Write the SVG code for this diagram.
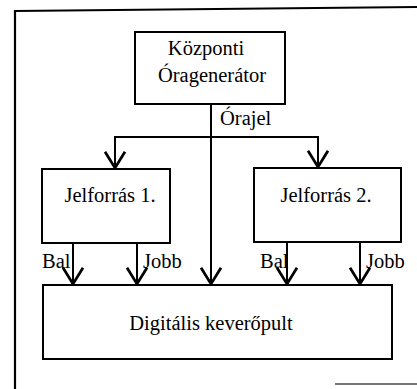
<svg xmlns="http://www.w3.org/2000/svg" width="417" height="389" viewBox="0 0 417 389">
  <defs>
    <style>
      .box { fill: #ffffff; stroke: #000000; stroke-width: 2; }
      .lbl { font-family: "Liberation Serif", "Times New Roman", serif; font-size: 20.5px; fill: #000000; }
      .wire { fill: none; stroke: #000000; stroke-width: 2; }
      .frame { fill: none; stroke: #000000; stroke-width: 2.2; }
    </style>
    <marker id="arr" markerUnits="userSpaceOnUse" markerWidth="30" markerHeight="30" refX="0" refY="0" viewBox="-16 -12 20 24" orient="auto" overflow="visible">
      <path d="M-13,-8 L0,0 L-13,8" fill="none" stroke="#000000" stroke-width="2.2"/>
    </marker>
  </defs>
  <rect x="0" y="0" width="417" height="389" fill="#ffffff"/>
  <g id="frame">
    <line class="frame" x1="15" y1="11" x2="417" y2="7"/>
    <line class="frame" x1="15" y1="10" x2="15" y2="389"/>
    <line x1="335" y1="384" x2="417" y2="384" stroke="#777777" stroke-width="2"/>
  </g>
  <g id="connectors">
    <line class="wire" x1="211" y1="104" x2="211" y2="284" marker-end="url(#arr)"/>
    <polyline class="wire" points="115,167 115,137 318,137 318,167" />
    <line class="wire" x1="115" y1="150" x2="115" y2="168" marker-end="url(#arr)"/>
    <line class="wire" x1="318" y1="150" x2="318" y2="167" marker-end="url(#arr)"/>
    <line class="wire" x1="73" y1="243" x2="73" y2="284" marker-end="url(#arr)"/>
    <line class="wire" x1="137" y1="243" x2="137" y2="284" marker-end="url(#arr)"/>
    <line class="wire" x1="287" y1="242" x2="287" y2="284" marker-end="url(#arr)"/>
    <line class="wire" x1="360" y1="242" x2="360" y2="284" marker-end="url(#arr)"/>
    <text class="lbl" x="220" y="125">Órajel</text>
    <text class="lbl" x="42" y="268">Bal</text>
    <text class="lbl" x="143" y="268">Jobb</text>
    <text class="lbl" x="260" y="268">Bal</text>
    <text class="lbl" x="366" y="268">Jobb</text>
  </g>
  <g id="kozponti">
    <rect class="box" x="135" y="32" width="150" height="72"/>
    <text class="lbl" x="206" y="55" text-anchor="middle">Központi</text>
    <text class="lbl" x="212" y="82" text-anchor="middle">Óragenerátor</text>
  </g>
  <g id="jelforras1">
    <rect class="box" x="42" y="169" width="128" height="74"/>
    <text class="lbl" x="110" y="202" text-anchor="middle">Jelforrás 1.</text>
  </g>
  <g id="jelforras2">
    <rect class="box" x="254" y="168" width="147" height="74"/>
    <text class="lbl" x="326" y="202" text-anchor="middle">Jelforrás 2.</text>
  </g>
  <g id="kevero">
    <rect class="box" x="43" y="285" width="349" height="74"/>
    <text class="lbl" x="211" y="330" text-anchor="middle">Digitális keverőpult</text>
  </g>
</svg>
